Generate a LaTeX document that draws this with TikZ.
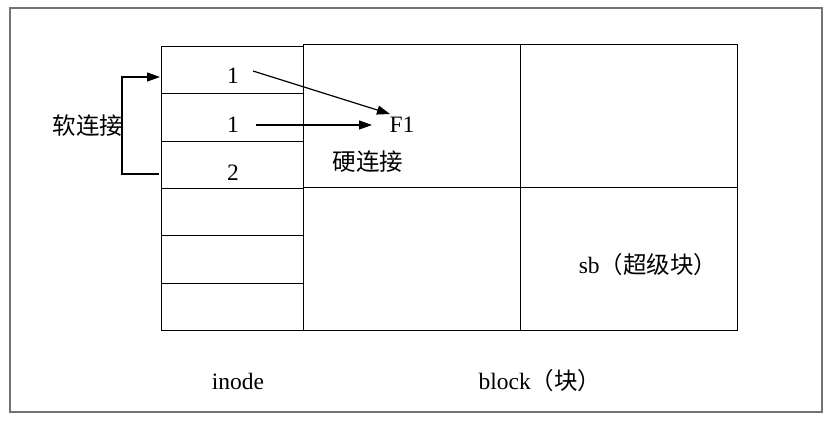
\documentclass[tikz,border=0pt]{standalone}
\usepackage{fontspec}
\setmainfont{Liberation Serif}
\newfontfamily\cjk{Noto Sans CJK SC}
\usetikzlibrary{arrows.meta}
\tikzset{
  frame/.style={draw=black!55, line width=1.2pt},
  cell/.style={draw=black, line width=1pt, minimum width=142pt, minimum height=47.3pt, inner sep=0pt, anchor=north west},
  blk/.style={draw=black, line width=1pt, minimum width=217pt, minimum height=143pt, inner sep=0pt, anchor=north west},
  lbl/.style={font=\fontsize{23.5}{27}\selectfont, inner sep=0pt},
  clbl/.style={font=\cjk\fontsize{23.5}{27}\selectfont, inner sep=0pt},
  arr/.style={draw=black, line width=1.2pt, -{Triangle[length=13pt,width=9pt]}},
}
\begin{document}
\begin{tikzpicture}[x=1pt,y=-1pt]
\useasboundingbox (0,0) rectangle (836,425);
\draw[frame] (10,8) rectangle (822,412);
% block area
\node[blk] (b1) at (303,44) {};
\node[blk] (b2) at (520,44) {};
\node[blk] (b3) at (303,187) {};
\node[blk] (b4) at (520,187) {};
% inode column
\node[cell] (r1) at (161,46) {};
\node[cell] (r2) at (161,93.3) {};
\node[cell] (r3) at (161,140.6) {};
\node[cell] (r4) at (161,187.9) {};
\node[cell] (r5) at (161,235.2) {};
\node[cell] (r6) at (161,282.5) {};
% texts
\node[lbl] (t1) at (233,76) {1};
\node[lbl] (t2) at (233,125) {1};
\node[lbl] (t3) at (233,173) {2};
\node[lbl] (f1) at (402,125) {F1};
\node[clbl] (hard) at (368,162) {硬连接};
\node[clbl] (soft) at (88,126) {软连接};
\node[clbl] (sb) at (648,265) {{\fontspec{Liberation Serif}sb}（超级块）};
\node[lbl] (ino) at (238,381) {inode};
\node[clbl] (blkl) at (540,381) {{\fontspec{Liberation Serif}block}（块）};
% arrows
\coordinate (a1s) at (253,71);
\coordinate (a1e) at (390,114);
\coordinate (a2s) at (256,125);
\coordinate (a2e) at (372,125);
\draw[arr] (a1s) -- (a1e);
\draw[arr] (a2s) -- (a2e);
\coordinate (s1) at (159,174);
\coordinate (s2) at (160,77);
\coordinate (sl) at (122,0);
\draw[arr] (s1) -- (s1 -| sl) -- (s2 -| sl) -- (s2);
\end{tikzpicture}
\end{document}
